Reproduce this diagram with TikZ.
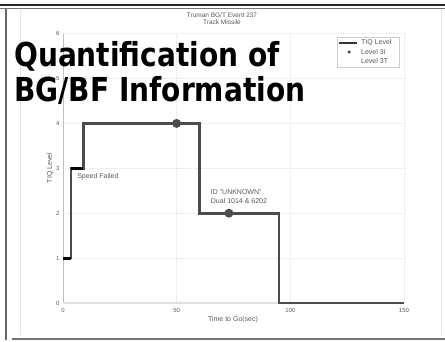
\documentclass[tikz,border=0pt]{standalone}
\usepackage{fontspec}
\setsansfont{Liberation Sans}
\newfontfamily\bigtitlefont{DejaVu Sans}[FakeStretch=0.85]
\usetikzlibrary{positioning}
\tikzset{
  small/.style   = {font=\sffamily\fontsize{7}{8}\selectfont, text=black!65, inner sep=0pt},
  ticklabel/.style = {small, font=\sffamily\fontsize{6}{7}\selectfont},
  gridline/.style = {black!10, densely dotted, line width=0.6pt},
  tiq/.style     = {black!70, line width=2.6pt},
  dot/.style     = {circle, fill=black!70, minimum size=9pt, inner sep=0pt},
  bigtitle/.style = {font=\bigtitlefont\bfseries\fontsize{33}{34}\selectfont, inner sep=0pt, anchor=base west}
}

\begin{document}
\begin{tikzpicture}[x=1pt, y=1pt]
	  \useasboundingbox (0,0) rectangle (445,341);

	  % frame round the slide
	  \draw[black!85, line width=2.5pt] (0,336) -- (445,336);
	  \draw[black!55, line width=1pt] (0,332.5) -- (445,332.5);
	  \draw[black!60, line width=2pt] (6,332) -- (6,1);
	  \draw[black!55, line width=2pt] (12,2) -- (445,2);
	  \draw[black!10, line width=0.6pt] (20,6) -- (20,331) (441,6) -- (441,331);

	  % plot title
	  \node[small, font=\sffamily\fontsize{6.5}{7}\selectfont] (t1) at (222,326) {Truman BG/T Event 237};
	  \node[small, font=\sffamily\fontsize{6.5}{7}\selectfont, below=2pt of t1] (t2) {Track Missile};

	  % the plot, in data units
	  \begin{scope}[shift={(63pt,38pt)}, x=2.273pt, y=44.9pt]
		\foreach \yy in {1,...,6}
		  \draw[gridline] (0,\yy) -- (150,\yy);
		\foreach \xx in {50,100,150}
		  \draw[gridline] (\xx,0) -- (\xx,6);
		\draw[black!25, line width=0.8pt] (0,6) -- (0,0);
		\draw[black!12, line width=1.6pt] (0,0) -- (150,0);

		\foreach \yy in {0,...,6}
		  \node[ticklabel, anchor=east] (yt\yy) at (-1.5,\yy) {\yy};
		\foreach \xx in {0,50,100,150}
		  \node[ticklabel, anchor=north] (xt\xx) at (\xx,-0.12) {\xx};

		% TIQ level over time
		\draw[tiq] (0,1) -- (3.5,1) -- (3.5,3) -- (9,3) -- (9,4) -- (60,4)
		  -- (60,2) -- (95,2) -- (95,0) -- (150,0);
		\draw[black, line width=2.8pt] (0,1) -- (3.5,1) (3.5,3) -- (9,3);

		\node[dot] (d1) at (50,4) {};
		\node[dot] (d2) at (73,2) {};

		\node[small, anchor=west] (speed) at (6.2,2.82) {Speed Failed};
		\node[small, anchor=west] (id) at (65,2.47) {ID "UNKNOWN"};
		\node[small, below=3pt of id.south west, anchor=north west] (dual) {Dual 1014 \& 6202};
	  \end{scope}

	  % axis labels
	  \node[small] (xlabel) at (233,21) {Time to Go(sec)};
	  \node[small, rotate=90] (ylabel) at (50,173) {TIQ Level};

	  % legend
	  \node[draw=black!20, line width=0.6pt, minimum width=62pt, minimum height=30pt, inner sep=0pt,
		anchor=north west] (legend) at (337,304) {};
	  \coordinate (ls) at (338.5,298);
	  \coordinate (le) at (357,298);
	  \draw[black!80, line width=1.6pt] (ls) -- (le);
	  \node[dot, minimum size=3.5pt] (ld) at (349,289) {};
	  \node[small, anchor=west] (l1) at (361,298) {TIQ Level};
	  \node[small, anchor=west] (l2) at (361,289) {Level 3I};
	  \node[small, anchor=west] (l3) at (361,280) {Level 3T};

	  % slide title
	  \node[bigtitle] (q1) at (14,274) {Quantification of};
	  \node[bigtitle] (q2) at (14,240) {BG/BF Information};

\end{tikzpicture}
\end{document}
